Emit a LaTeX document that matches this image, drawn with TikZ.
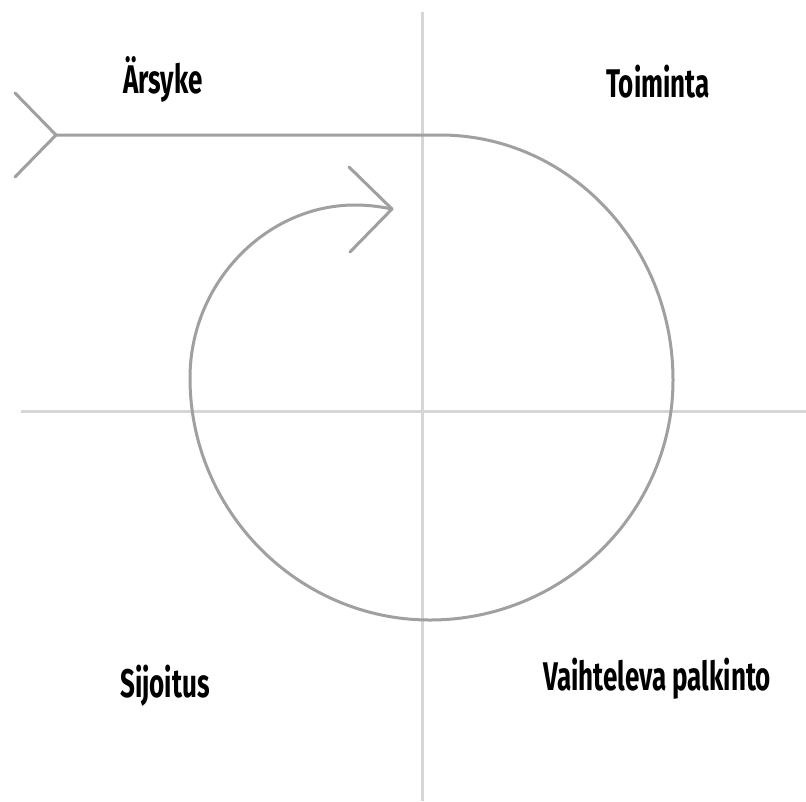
\documentclass[tikz,border=0pt]{standalone}
\usepackage{fontspec}
\setmainfont{Fira Sans}[FakeStretch=0.65]
\usepackage{tikz}
\usetikzlibrary{positioning}
\definecolor{axisgray}{RGB}{214,214,214}
\definecolor{loopgray}{RGB}{160,160,160}

\begin{document}
\begin{tikzpicture}[
    x=1pt, y=-1pt,
    axis/.style={draw=axisgray, line width=3pt},
    loop/.style={draw=loopgray, line width=3pt, line cap=round, line join=round},
    label/.style={font=\fontsize{40}{44}\selectfont\bfseries, text=black, inner sep=0pt}
]
    \useasboundingbox (0,0) rectangle (806,801);
    \fill[white] (0,0) rectangle (806,801);

    % quadrants
    \draw[axis] (422,12) -- (422,801);
    \draw[axis] (21,411) -- (806,411);

    % labels
    \node[label] (trigger) at (163,79) {Ärsyke};
    \node[label] (action) at (658,82) {Toiminta};
    \node[label] (invest) at (165,686) {Sijoitus};
    \node[label] (reward) at (657,679) {Vaihteleva palkinto};

    % loop
    \coordinate (tail) at (56,135);
    \coordinate (tip) at (392,209);
    \draw[loop] (tail) -- (440,135)
        .. controls (569,135) and (673,245) .. (673,380)
        .. controls (673,512) and (564,620) .. (430,620)
        .. controls (298,620) and (190,511) .. (190,378)
        .. controls (190,283) and (266,205) .. (355,205)
        .. controls (370,205) and (382,207) .. (tip);
    \draw[loop] (tail) -- ++(-41,-42);
    \draw[loop] (tail) -- ++(-41,42);
    \draw[loop] (tip) -- ++(-43,-42);
    \draw[loop] (tip) -- ++(-42,43);
\end{tikzpicture}
\end{document}
